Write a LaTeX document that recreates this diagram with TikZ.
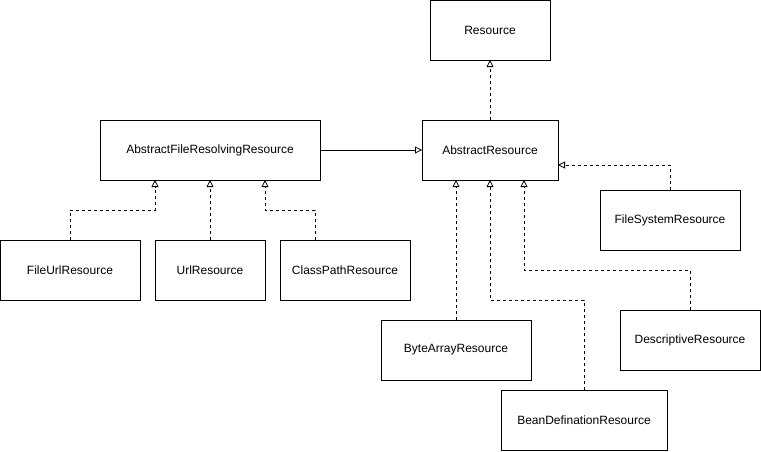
\documentclass[tikz,border=0pt]{standalone}
\usepackage{fontspec}
\setmainfont{Liberation Sans}
\usepackage{tikz}
\usetikzlibrary{positioning, arrows.meta, calc}
\tikzset{
    classbox/.style={
        rectangle,
        draw,
        line width=1pt,
        fill=white,
        minimum height=60pt,
        inner sep=0pt,
        outer sep=0pt,
        font=\fontsize{12}{14}\selectfont,
        align=center
    },
    inherit/.style={
        -{Triangle[open, length=7pt, width=7pt]},
        line width=0.8pt
    },
    realize/.style={
        inherit,
        dash pattern=on 3pt off 3pt
    }
}

\begin{document}
\begin{tikzpicture}[x=1pt, y=-1pt]
    \useasboundingbox (0,0) rectangle (761,451);
    \node[classbox, minimum width=120pt] (Resource) at (490,30) {Resource};
    \node[classbox, minimum width=136pt, below=60pt of Resource] (AbsRes) {AbstractResource};
    \node[classbox, minimum width=220pt, left=102pt of AbsRes] (AbsFile) {AbstractFileResolvingResource};

    \node[classbox, minimum width=110pt, below=60pt of AbsFile] (UrlRes) {UrlResource};
    \node[classbox, minimum width=140pt, left=15pt of UrlRes] (FileUrl) {FileUrlResource};
    \node[classbox, minimum width=130pt, right=15pt of UrlRes] (ClassPath) {ClassPathResource};

    \node[classbox, minimum width=140pt, below right=10pt and 42pt of AbsRes] (FileSys) {FileSystemResource};
    \node[classbox, minimum width=150pt] (ByteArr) at (456,350) {ByteArrayResource};
    \node[classbox, minimum width=140pt] (Descr) at (690,340) {DescriptiveResource};
    \node[classbox, minimum width=166pt] (BeanDef) at (584,420) {BeanDefinationResource};

    \draw[realize] (AbsRes) -- (Resource);
    \draw[inherit] (AbsFile) -- (AbsRes);
    \draw[realize] (FileSys.north) |- ([yshift=-15pt]AbsRes.east);

    % subclasses of AbstractFileResolvingResource
    \draw[realize] (FileUrl.north) -- ++(0,-30) -| ([xshift=-55pt]AbsFile.south);
    \draw[realize] (UrlRes) -- (AbsFile);
    \draw[realize] ([xshift=-30pt]ClassPath.north) -- ++(0,-30) -| ([xshift=55pt]AbsFile.south);

    % subclasses of AbstractResource
    \draw[realize] (ByteArr.north) -- (ByteArr.north |- AbsRes.south);
    \draw[realize] (BeanDef.north) -- ++(0,-90) -| (AbsRes.south);
    \draw[realize] (Descr.north) -- ++(0,-40) -| ([xshift=34pt]AbsRes.south);
\end{tikzpicture}
\end{document}
